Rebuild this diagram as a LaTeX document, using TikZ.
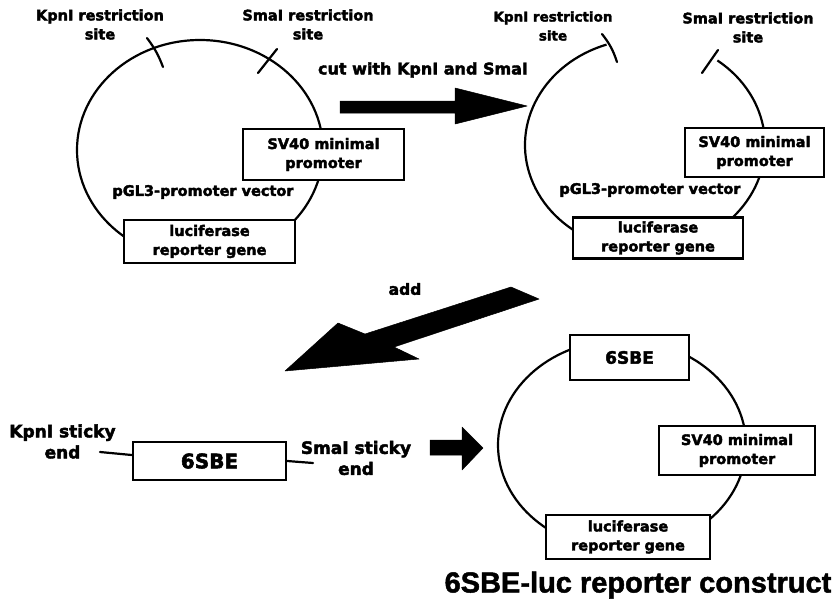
\documentclass[tikz,border=0pt]{standalone}
\usepackage{fontspec}
\setmainfont{DejaVu Sans}[BoldFeatures={FakeBold=2.6}]
\newfontfamily\titlefont{Liberation Sans}[BoldFeatures={FakeBold=1.6}]
\usetikzlibrary{calc}
\begin{document}
\begin{tikzpicture}[x=1pt,y=1pt,
  txt/.style={font=\bfseries\fontsize{14.5}{19}\selectfont, align=center, inner sep=0pt},
  gbox/.style={draw, line width=2.6pt, fill=white, align=center, inner sep=0pt,
               font=\bfseries\fontsize{14.5}{19}\selectfont},
  ring/.style={line width=2.2pt},
  tick/.style={line width=2.2pt, line cap=round},
  fatarrow/.style={fill=black, draw=black, line width=0.5pt, line join=round}]
\useasboundingbox (0,0) rectangle (833,-598);
\fill[white] (0,0) rectangle (833,-598);

% ---------- plasmid 1 ----------
\coordinate (c1) at (200,-150);
\draw[ring] (c1) ellipse [x radius=123, y radius=110];
\draw[tick] (147,-38) to[bend left=8] (163,-67);
\draw[tick] (277,-49) -- (258,-73);
\node[gbox, minimum width=161pt, minimum height=51pt] (sv1) at (323.5,-154.5) {SV40 minimal\\promoter};
\node[gbox, minimum width=171pt, minimum height=43pt] (luc1) at (209.5,-241.5) {luciferase\\reporter gene};
\node[txt] (pgl1) at (203,-192) {pGL3-promoter vector};
\node[txt] (kpn1) at (100,-24.5) {KpnI restriction\\site};
\node[txt] (sma1) at (308,-24.5) {SmaI restriction\\site};

% ---------- arrow 1 ----------
\node[txt, font=\bfseries\fontsize{16}{19}\selectfont] (cut) at (423,-70) {cut with KpnI and SmaI};
\filldraw[fatarrow] (340,-101) -- (455,-101) -- (455,-88) -- (527,-106) -- (455,-124) -- (455,-113) -- (340,-113) -- cycle;

% ---------- plasmid 2 (cut) ----------
\coordinate (c2) at (645,-145);
\draw[ring] ($(c2)+(108.7:120 and 106)$) arc[start angle=108.7, end angle=412.9, x radius=120, y radius=106];
\draw[tick] (602,-34) to[bend left=10] (617,-62);
\draw[tick] (718,-50) -- (702,-73);
\node[gbox, minimum width=139pt, minimum height=49pt] (sv2) at (754.5,-152.5) {SV40 minimal\\promoter};
\node[gbox, minimum width=170pt, minimum height=41pt] (luc2) at (658,-238) {luciferase\\reporter gene};
\node[txt] (pgl2) at (650,-190) {pGL3-promoter vector};
\node[txt, font=\bfseries\fontsize{13.5}{19}\selectfont] (kpn2) at (553,-26) {KpnI restriction\\site};
\node[txt] (sma2) at (748,-27.5) {SmaI restriction\\site};

% ---------- arrow 2 ----------
\node[txt, font=\bfseries\fontsize{15.5}{19}\selectfont] (add) at (405,-289) {add};
\filldraw[fatarrow] (285,-371) -- (338,-323) -- (365,-334) -- (511,-287) -- (539,-299) -- (394,-347) -- (419,-359) -- cycle;

% ---------- insert ----------
\node[gbox, minimum width=153pt, minimum height=38pt, font=\bfseries\fontsize{20}{22}\selectfont] (sbe) at (209.5,-461) {6SBE};
\node[txt, font=\bfseries\fontsize{17}{21}\selectfont] (kst) at (62.5,-441.5) {KpnI sticky\\end};
\node[txt, font=\bfseries\fontsize{17}{21}\selectfont] (sst) at (356,-458) {SmaI sticky\\end};
\coordinate (kend) at (100,-452);
\coordinate (send) at (313,-463);
\draw[tick] (kend) .. controls (115,-454) .. ([yshift=6pt]sbe.west);
\draw[tick] (sbe.east) -- (send);

% ---------- arrow 3 ----------
\filldraw[fatarrow] (430,-440) -- (462,-440) -- (462,-427) -- (483,-448) -- (462,-470) -- (462,-455) -- (430,-455) -- cycle;

% ---------- plasmid 3 ----------
\coordinate (c3) at (622,-445);
\draw[ring] (c3) ellipse [x radius=124, y radius=105];
\node[gbox, minimum width=119pt, minimum height=45pt, font=\bfseries\fontsize{17}{20}\selectfont] (sbe3) at (629.5,-357.5) {6SBE};
\node[gbox, minimum width=156pt, minimum height=49pt] (sv3) at (737,-450.5) {SV40 minimal\\promoter};
\node[gbox, minimum width=164pt, minimum height=44pt] (luc3) at (628,-537) {luciferase\\reporter gene};
\node[txt, font=\titlefont\bfseries\fontsize{29}{32}\selectfont] (title) at (638,-585) {6SBE-luc reporter construct};
\end{tikzpicture}
\end{document}
